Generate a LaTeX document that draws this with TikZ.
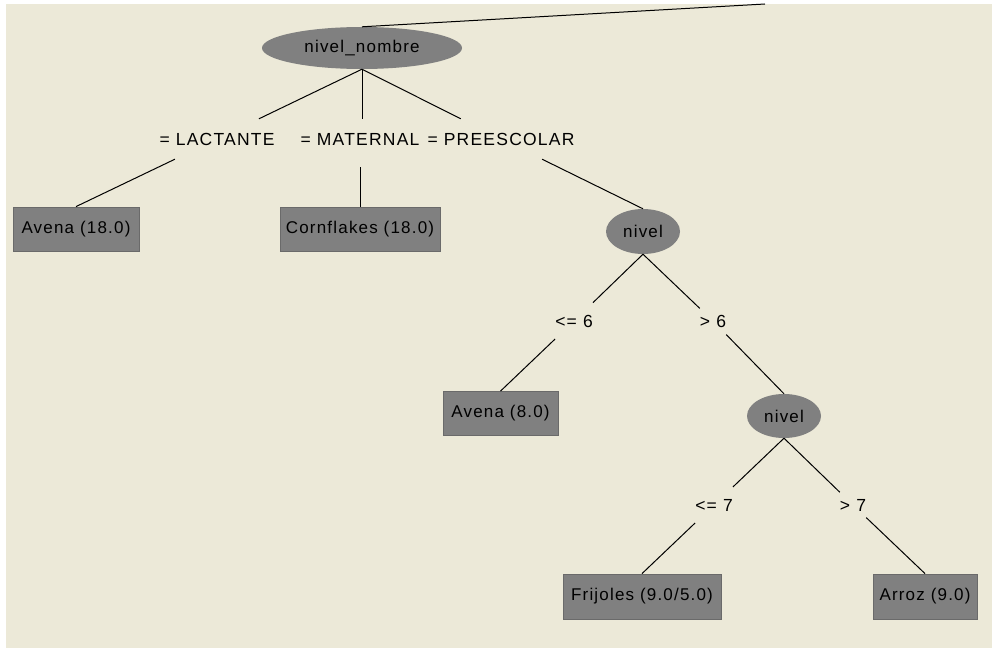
\documentclass[tikz,border=0pt]{standalone}
\usepackage{fontspec}
\setmainfont{Liberation Sans}[LetterSpace=7]
\usetikzlibrary{shapes.geometric}
\definecolor{bgbeige}{HTML}{ECE9D8}
\definecolor{nodegray}{HTML}{808080}
\definecolor{edgegray}{HTML}{6A6A6A}
\tikzset{
  treeedge/.style={draw=black, line width=1bp},
  splitnode/.style={ellipse, fill=nodegray, inner sep=0pt, font=\fontsize{17bp}{20bp}\selectfont},
  leafnode/.style={rectangle, fill=nodegray, draw=edgegray, line width=0.8bp, inner sep=0pt, minimum height=44bp, font=\fontsize{17bp}{20bp}\selectfont},
  edgelabel/.style={rectangle, inner sep=0pt, minimum height=40bp, font=\fontsize{17.5bp}{20bp}\selectfont},
}
\begin{document}
\begin{tikzpicture}[x=1bp, y=-1bp]
\useasboundingbox (0,0) rectangle (992,651);
\fill[white] (0,0) rectangle (992,651);
\fill[bgbeige] (6,4) rectangle (992,648);

% split nodes
\node[splitnode, minimum width=200bp, minimum height=42bp] (root) at (362,48) {nivel\_nombre};
\node[splitnode, minimum width=74bp, minimum height=45bp] (nivelA) at (643,231.5) {nivel};
\node[splitnode, minimum width=74bp, minimum height=44bp] (nivelB) at (784,416) {nivel};

% leaves
\node[leafnode, minimum width=126bp] (avena18) at (76,229) {Avena (18.0)};
\node[leafnode, minimum width=160bp] (corn) at (360,229) {Cornflakes (18.0)};
\node[leafnode, minimum width=115bp] (avena8) at (500.5,413.5) {Avena (8.0)};
\node[leafnode, minimum width=158bp, minimum height=45bp] (frij) at (642,596.5) {Frijoles (9.0/5.0)};
\node[leafnode, minimum width=104bp, minimum height=45bp] (arroz) at (925,596.5) {Arroz (9.0)};

% edge labels
\node[edgelabel] (lact) at (217,139) {= LACTANTE};
\node[edgelabel] (mat) at (360,139) {= MATERNAL};
\node[edgelabel] (pre) at (501,139) {= PREESCOLAR};
\node[edgelabel] (le6) at (574,321) {<= 6};
\node[edgelabel] (gt6) at (713,321) {> 6};
\node[edgelabel] (le7) at (714,505) {<= 7};
\node[edgelabel] (gt7) at (853,505) {> 7};

\coordinate (topend) at (765,4);

% connectors
\draw[treeedge] (root.north) -- (topend);
\draw[treeedge] (root.south) -- (lact);
\draw[treeedge] (root.south) -- (root.south |- mat.north);
\draw[treeedge] (root.south) -- (pre);
\draw[treeedge] (lact) -- (avena18.north);
\draw[treeedge, shorten <=8bp] (corn.north |- mat.south) -- (corn.north);
\draw[treeedge] (pre) -- (nivelA.north);
\draw[treeedge] (nivelA.south) -- (le6);
\draw[treeedge] (nivelA.south) -- (gt6);
\draw[treeedge] (le6) -- (avena8.north);
\draw[treeedge] (gt6) -- (nivelB.north);
\draw[treeedge] (nivelB.south) -- (le7);
\draw[treeedge] (nivelB.south) -- (gt7);
\draw[treeedge] (le7) -- (frij.north);
\draw[treeedge] (gt7) -- (arroz.north);
\end{tikzpicture}
\end{document}
